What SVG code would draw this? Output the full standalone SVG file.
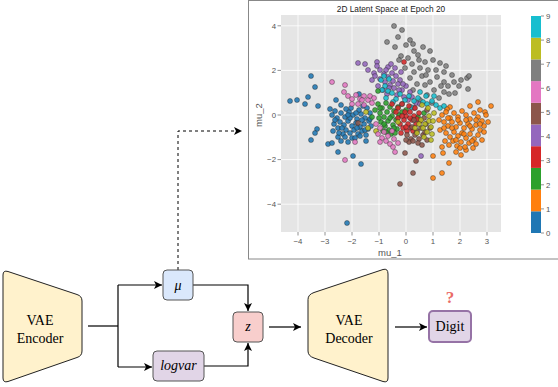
<svg xmlns="http://www.w3.org/2000/svg" width="558" height="387" viewBox="0 0 558 387">
<style>
.t{font-family:"Liberation Sans","DejaVu Sans",sans-serif;fill:#555;font-size:7.8px}
.s{font-family:"Liberation Serif","DejaVu Serif",serif;fill:#000;font-size:14px}
.i{font-family:"Liberation Serif","DejaVu Serif",serif;font-style:italic}
.g{stroke:#fff;stroke-width:0.8}
.k{stroke:#777;stroke-width:0.8}
.ln{fill:none;stroke:#000;stroke-width:1.2}
circle{r:2.5px;stroke:#222;stroke-width:0.5;fill-opacity:0.88;stroke-opacity:0.8}
.c0{fill:#1f77b4}.c1{fill:#ff7f0e}.c2{fill:#2ca02c}.c3{fill:#d62728}.c4{fill:#9467bd}
.c5{fill:#8c564b}.c6{fill:#e377c2}.c7{fill:#7f7f7f}.c8{fill:#bcbd22}.c9{fill:#17becf}
</style>
<defs>
<marker id="ar" markerWidth="9" markerHeight="9" refX="8" refY="4" orient="auto" markerUnits="userSpaceOnUse">
<path d="M0,0 L8,4 L0,8 L2,4 z" fill="#000"/>
</marker>
</defs>
<rect width="558" height="387" fill="#fff"/>
<g id="plot">
<rect x="248.5" y="0.5" width="310" height="258.5" fill="#fff" stroke="#888" stroke-width="1"/>
<rect x="281" y="15" width="220" height="217" fill="#e5e5e5"/>
<g class="g">
<line x1="298" y1="15" x2="298" y2="232"/><line x1="325" y1="15" x2="325" y2="232"/>
<line x1="352" y1="15" x2="352" y2="232"/><line x1="379" y1="15" x2="379" y2="232"/>
<line x1="406" y1="15" x2="406" y2="232"/><line x1="433" y1="15" x2="433" y2="232"/>
<line x1="460" y1="15" x2="460" y2="232"/><line x1="487" y1="15" x2="487" y2="232"/>
<line x1="281" y1="25.8" x2="501" y2="25.8"/><line x1="281" y1="70.4" x2="501" y2="70.4"/>
<line x1="281" y1="115" x2="501" y2="115"/><line x1="281" y1="159.6" x2="501" y2="159.6"/>
<line x1="281" y1="204.2" x2="501" y2="204.2"/>
</g>
<g class="k">
<line x1="298" y1="232" x2="298" y2="235.5"/><line x1="325" y1="232" x2="325" y2="235.5"/>
<line x1="352" y1="232" x2="352" y2="235.5"/><line x1="379" y1="232" x2="379" y2="235.5"/>
<line x1="406" y1="232" x2="406" y2="235.5"/><line x1="433" y1="232" x2="433" y2="235.5"/>
<line x1="460" y1="232" x2="460" y2="235.5"/><line x1="487" y1="232" x2="487" y2="235.5"/>
<line x1="277.5" y1="25.8" x2="281" y2="25.8"/><line x1="277.5" y1="70.4" x2="281" y2="70.4"/>
<line x1="277.5" y1="115" x2="281" y2="115"/><line x1="277.5" y1="159.6" x2="281" y2="159.6"/>
<line x1="277.5" y1="204.2" x2="281" y2="204.2"/>
</g>
<g class="t" text-anchor="middle">
<text x="298" y="244">−4</text><text x="325" y="244">−3</text><text x="352" y="244">−2</text>
<text x="379" y="244">−1</text><text x="406" y="244">0</text><text x="433" y="244">1</text>
<text x="460" y="244">2</text><text x="487" y="244">3</text>
</g>
<g class="t" text-anchor="end">
<text x="276" y="28.5">4</text><text x="276" y="73">2</text><text x="276" y="117.7">0</text>
<text x="276" y="162.3">−2</text><text x="276" y="206.9">−4</text>
</g>
<text class="t" x="390" y="255.5" text-anchor="middle" style="font-size:9.5px">mu_1</text>
<text class="t" transform="translate(261.5,115) rotate(-90)" text-anchor="middle" style="font-size:9.5px">mu_2</text>
<text x="391" y="12" text-anchor="middle" font-family="Liberation Sans, DejaVu Sans, sans-serif" font-size="8.3" fill="#222">2D Latent Space at Epoch 20</text>
<g id="points">
<circle class="c0" cx="290" cy="101"/><circle class="c0" cx="297" cy="100"/><circle class="c0" cx="305" cy="104"/><circle class="c0" cx="311" cy="76"/><circle class="c0" cx="315" cy="87"/><circle class="c0" cx="308" cy="97"/><circle class="c0" cx="318" cy="106"/><circle class="c0" cx="317" cy="129"/><circle class="c0" cx="315" cy="133"/><circle class="c0" cx="311" cy="140"/><circle class="c0" cx="328" cy="144"/><circle class="c0" cx="332" cy="143"/><circle class="c0" cx="338" cy="137"/><circle class="c0" cx="341" cy="141"/><circle class="c0" cx="338" cy="152"/><circle class="c0" cx="353" cy="156"/><circle class="c0" cx="361" cy="164"/><circle class="c0" cx="347" cy="223"/><circle class="c0" cx="359" cy="94"/><circle class="c0" cx="336" cy="100"/><circle class="c0" cx="341" cy="105"/><circle class="c0" cx="330" cy="109"/><circle class="c0" cx="335" cy="111"/><circle class="c0" cx="348" cy="142"/><circle class="c0" cx="352" cy="138"/><circle class="c0" cx="366" cy="141"/>
<circle class="c0" cx="332" cy="115"/><circle class="c0" cx="337" cy="118"/><circle class="c0" cx="341" cy="113"/><circle class="c0" cx="345" cy="117"/><circle class="c0" cx="349" cy="112"/><circle class="c0" cx="353" cy="115"/><circle class="c0" cx="357" cy="119"/><circle class="c0" cx="361" cy="114"/><circle class="c0" cx="365" cy="118"/><circle class="c0" cx="369" cy="121"/><circle class="c0" cx="340" cy="122"/><circle class="c0" cx="344" cy="125"/><circle class="c0" cx="348" cy="121"/><circle class="c0" cx="352" cy="126"/><circle class="c0" cx="356" cy="123"/><circle class="c0" cx="360" cy="127"/><circle class="c0" cx="364" cy="124"/><circle class="c0" cx="368" cy="129"/><circle class="c0" cx="346" cy="130"/><circle class="c0" cx="350" cy="133"/><circle class="c0" cx="354" cy="130"/><circle class="c0" cx="358" cy="134"/><circle class="c0" cx="362" cy="131"/><circle class="c0" cx="366" cy="135"/><circle class="c0" cx="343" cy="134"/><circle class="c0" cx="338" cy="128"/><circle class="c0" cx="334" cy="124"/><circle class="c0" cx="355" cy="138"/><circle class="c0" cx="359" cy="110"/><circle class="c0" cx="363" cy="106"/><circle class="c0" cx="370" cy="113"/><circle class="c0" cx="371" cy="126"/><circle class="c0" cx="367" cy="108"/><circle class="c0" cx="351" cy="108"/><circle class="c0" cx="346" cy="109"/><circle class="c0" cx="339" cy="133"/>
<circle class="c0" cx="335" cy="120"/><circle class="c0" cx="342" cy="128"/><circle class="c0" cx="356" cy="113"/><circle class="c0" cx="362" cy="120"/><circle class="c0" cx="350" cy="118"/><circle class="c0" cx="345" cy="137"/><circle class="c0" cx="365" cy="130"/><circle class="c0" cx="333" cy="131"/><circle class="c0" cx="370" cy="119"/><circle class="c0" cx="357" cy="128"/><circle class="c0" cx="348" cy="115"/><circle class="c0" cx="360" cy="136"/>
<circle class="c1" cx="478" cy="102"/><circle class="c1" cx="491" cy="106"/><circle class="c1" cx="470" cy="106"/><circle class="c1" cx="485" cy="112"/><circle class="c1" cx="450" cy="107"/><circle class="c1" cx="433" cy="156"/><circle class="c1" cx="443" cy="153"/><circle class="c1" cx="449" cy="163"/><circle class="c1" cx="442" cy="173"/><circle class="c1" cx="433" cy="178"/><circle class="c1" cx="466" cy="150"/><circle class="c1" cx="461" cy="155"/><circle class="c1" cx="447" cy="109"/>
<circle class="c1" cx="442" cy="115"/><circle class="c1" cx="446" cy="112"/><circle class="c1" cx="450" cy="118"/><circle class="c1" cx="454" cy="113"/><circle class="c1" cx="458" cy="117"/><circle class="c1" cx="462" cy="111"/><circle class="c1" cx="466" cy="115"/><circle class="c1" cx="470" cy="119"/><circle class="c1" cx="474" cy="113"/><circle class="c1" cx="478" cy="117"/><circle class="c1" cx="482" cy="121"/><circle class="c1" cx="486" cy="115"/><circle class="c1" cx="444" cy="122"/><circle class="c1" cx="448" cy="126"/><circle class="c1" cx="452" cy="122"/><circle class="c1" cx="456" cy="127"/><circle class="c1" cx="460" cy="123"/><circle class="c1" cx="464" cy="128"/><circle class="c1" cx="468" cy="124"/><circle class="c1" cx="472" cy="129"/><circle class="c1" cx="476" cy="125"/><circle class="c1" cx="480" cy="130"/><circle class="c1" cx="484" cy="126"/><circle class="c1" cx="440" cy="130"/><circle class="c1" cx="446" cy="133"/><circle class="c1" cx="450" cy="137"/><circle class="c1" cx="454" cy="132"/><circle class="c1" cx="458" cy="136"/><circle class="c1" cx="462" cy="133"/><circle class="c1" cx="466" cy="138"/><circle class="c1" cx="470" cy="134"/><circle class="c1" cx="474" cy="139"/><circle class="c1" cx="478" cy="135"/><circle class="c1" cx="482" cy="140"/><circle class="c1" cx="445" cy="141"/><circle class="c1" cx="449" cy="145"/><circle class="c1" cx="453" cy="141"/><circle class="c1" cx="457" cy="146"/><circle class="c1" cx="461" cy="142"/><circle class="c1" cx="465" cy="147"/><circle class="c1" cx="469" cy="143"/><circle class="c1" cx="473" cy="148"/><circle class="c1" cx="442" cy="147"/><circle class="c1" cx="456" cy="152"/><circle class="c1" cx="476" cy="144"/><circle class="c1" cx="488" cy="122"/><circle class="c1" cx="439" cy="120"/><circle class="c1" cx="480" cy="110"/>
<circle class="c1" cx="452" cy="128"/><circle class="c1" cx="458" cy="120"/><circle class="c1" cx="464" cy="134"/><circle class="c1" cx="470" cy="126"/><circle class="c1" cx="476" cy="120"/><circle class="c1" cx="444" cy="128"/><circle class="c1" cx="480" cy="124"/><circle class="c1" cx="466" cy="120"/><circle class="c1" cx="456" cy="140"/><circle class="c1" cx="448" cy="118"/><circle class="c1" cx="472" cy="141"/><circle class="c1" cx="460" cy="148"/><circle class="c1" cx="484" cy="132"/>
<circle class="c7" cx="394" cy="26"/><circle class="c7" cx="402" cy="30"/><circle class="c7" cx="398" cy="37"/><circle class="c7" cx="410" cy="40"/><circle class="c7" cx="406" cy="45"/><circle class="c7" cx="413" cy="44"/><circle class="c7" cx="423" cy="47"/><circle class="c7" cx="430" cy="51"/><circle class="c7" cx="414" cy="51"/><circle class="c7" cx="387" cy="42"/><circle class="c7" cx="401" cy="56"/><circle class="c7" cx="408" cy="58"/><circle class="c7" cx="418" cy="55"/><circle class="c7" cx="425" cy="62"/><circle class="c7" cx="433" cy="60"/><circle class="c7" cx="440" cy="63"/><circle class="c7" cx="446" cy="66"/><circle class="c7" cx="452" cy="75"/><circle class="c7" cx="467" cy="78"/><circle class="c7" cx="469" cy="76"/><circle class="c7" cx="459" cy="86"/><circle class="c7" cx="468" cy="89"/><circle class="c7" cx="454" cy="82"/><circle class="c7" cx="444" cy="82"/><circle class="c7" cx="444" cy="92"/><circle class="c7" cx="449" cy="94"/><circle class="c7" cx="455" cy="93"/><circle class="c7" cx="437" cy="77"/><circle class="c7" cx="430" cy="82"/><circle class="c7" cx="434" cy="90"/><circle class="c7" cx="427" cy="95"/><circle class="c7" cx="420" cy="68"/><circle class="c7" cx="414" cy="72"/><circle class="c7" cx="422" cy="76"/><circle class="c7" cx="428" cy="70"/><circle class="c7" cx="412" cy="64"/><circle class="c7" cx="405" cy="68"/><circle class="c7" cx="399" cy="60"/><circle class="c7" cx="436" cy="70"/><circle class="c7" cx="444" cy="72"/><circle class="c7" cx="448" cy="86"/><circle class="c7" cx="439" cy="98"/><circle class="c7" cx="425" cy="85"/><circle class="c7" cx="417" cy="84"/><circle class="c7" cx="410" cy="78"/><circle class="c7" cx="432" cy="103"/><circle class="c7" cx="420" cy="100"/>
<circle class="c7" cx="395" cy="47"/><circle class="c7" cx="419" cy="60"/><circle class="c7" cx="426" cy="75"/><circle class="c7" cx="441" cy="86"/><circle class="c7" cx="461" cy="80"/><circle class="c7" cx="413" cy="90"/>
<circle class="c4" cx="358" cy="63"/><circle class="c4" cx="365" cy="64"/><circle class="c4" cx="377" cy="62"/><circle class="c4" cx="377" cy="66"/><circle class="c4" cx="368" cy="70"/><circle class="c4" cx="388" cy="67"/><circle class="c4" cx="374" cy="73"/><circle class="c4" cx="380" cy="70"/><circle class="c4" cx="384" cy="74"/><circle class="c4" cx="388" cy="77"/><circle class="c4" cx="392" cy="73"/><circle class="c4" cx="396" cy="76"/><circle class="c4" cx="400" cy="80"/><circle class="c4" cx="380" cy="79"/><circle class="c4" cx="385" cy="82"/><circle class="c4" cx="390" cy="85"/><circle class="c4" cx="394" cy="88"/><circle class="c4" cx="398" cy="84"/><circle class="c4" cx="402" cy="90"/><circle class="c4" cx="406" cy="86"/><circle class="c4" cx="410" cy="92"/><circle class="c4" cx="378" cy="86"/><circle class="c4" cx="383" cy="90"/><circle class="c4" cx="387" cy="94"/><circle class="c4" cx="397" cy="95"/><circle class="c4" cx="404" cy="97"/><circle class="c4" cx="408" cy="100"/><circle class="c4" cx="412" cy="97"/><circle class="c4" cx="416" cy="103"/><circle class="c4" cx="420" cy="104"/><circle class="c4" cx="372" cy="80"/><circle class="c4" cx="395" cy="68"/><circle class="c4" cx="401" cy="72"/><circle class="c4" cx="391" cy="64"/><circle class="c4" cx="421" cy="156"/><circle class="c4" cx="414" cy="108"/>
<circle class="c4" cx="386" cy="70"/><circle class="c4" cx="393" cy="81"/><circle class="c4" cx="403" cy="84"/><circle class="c4" cx="375" cy="76"/><circle class="c4" cx="389" cy="88"/><circle class="c4" cx="399" cy="90"/>
<circle class="c9" cx="381" cy="80"/><circle class="c9" cx="385" cy="86"/><circle class="c9" cx="389" cy="79"/><circle class="c9" cx="382" cy="90"/><circle class="c9" cx="388" cy="91"/><circle class="c9" cx="392" cy="93"/><circle class="c9" cx="396" cy="99"/><circle class="c9" cx="400" cy="94"/><circle class="c9" cx="405" cy="100"/><circle class="c9" cx="409" cy="96"/><circle class="c9" cx="414" cy="101"/><circle class="c9" cx="418" cy="98"/><circle class="c9" cx="423" cy="102"/><circle class="c9" cx="427" cy="104"/><circle class="c9" cx="432" cy="101"/><circle class="c9" cx="436" cy="105"/><circle class="c9" cx="440" cy="108"/><circle class="c9" cx="444" cy="106"/><circle class="c9" cx="402" cy="104"/><circle class="c9" cx="411" cy="107"/><circle class="c9" cx="386" cy="98"/><circle class="c9" cx="393" cy="102"/><circle class="c9" cx="420" cy="92"/><circle class="c9" cx="426" cy="96"/><circle class="c9" cx="434" cy="96"/><circle class="c9" cx="384" cy="76"/>
<circle class="c6" cx="332" cy="82"/><circle class="c6" cx="345" cy="85"/><circle class="c6" cx="344" cy="92"/><circle class="c6" cx="348" cy="96"/><circle class="c6" cx="352" cy="99"/><circle class="c6" cx="356" cy="95"/><circle class="c6" cx="360" cy="99"/><circle class="c6" cx="364" cy="96"/><circle class="c6" cx="368" cy="100"/><circle class="c6" cx="372" cy="103"/><circle class="c6" cx="352" cy="104"/><circle class="c6" cx="358" cy="104"/><circle class="c6" cx="364" cy="105"/><circle class="c6" cx="370" cy="96"/><circle class="c6" cx="345" cy="160"/><circle class="c6" cx="355" cy="142"/><circle class="c6" cx="395" cy="152"/><circle class="c6" cx="362" cy="100"/><circle class="c6" cx="374" cy="98"/>
<circle class="c2" cx="378" cy="91"/><circle class="c2" cx="378" cy="104"/><circle class="c2" cx="382" cy="108"/><circle class="c2" cx="386" cy="103"/><circle class="c2" cx="390" cy="107"/><circle class="c2" cx="394" cy="111"/><circle class="c2" cx="380" cy="113"/><circle class="c2" cx="384" cy="117"/><circle class="c2" cx="388" cy="121"/><circle class="c2" cx="392" cy="116"/><circle class="c2" cx="396" cy="120"/><circle class="c2" cx="381" cy="122"/><circle class="c2" cx="385" cy="126"/><circle class="c2" cx="389" cy="130"/><circle class="c2" cx="393" cy="125"/><circle class="c2" cx="397" cy="129"/><circle class="c2" cx="379" cy="118"/><circle class="c2" cx="383" cy="131"/><circle class="c2" cx="399" cy="115"/><circle class="c2" cx="372" cy="117"/><circle class="c2" cx="375" cy="110"/><circle class="c2" cx="387" cy="112"/><circle class="c2" cx="391" cy="134"/><circle class="c2" cx="398" cy="107"/><circle class="c2" cx="402" cy="112"/><circle class="c2" cx="395" cy="133"/><circle class="c2" cx="418" cy="117"/><circle class="c2" cx="424" cy="113"/><circle class="c2" cx="406" cy="110"/>
<circle class="c2" cx="384" cy="124"/><circle class="c2" cx="390" cy="118"/><circle class="c2" cx="386" cy="132"/><circle class="c2" cx="394" cy="128"/><circle class="c2" cx="380" cy="108"/>
<circle class="c3" cx="404" cy="62"/><circle class="c3" cx="398" cy="108"/><circle class="c3" cx="402" cy="104"/><circle class="c3" cx="406" cy="116"/><circle class="c3" cx="410" cy="112"/><circle class="c3" cx="414" cy="116"/><circle class="c3" cx="404" cy="120"/><circle class="c3" cx="408" cy="124"/><circle class="c3" cx="412" cy="120"/><circle class="c3" cx="416" cy="124"/><circle class="c3" cx="400" cy="124"/><circle class="c3" cx="403" cy="128"/><circle class="c3" cx="407" cy="131"/><circle class="c3" cx="411" cy="128"/><circle class="c3" cx="396" cy="112"/><circle class="c3" cx="419" cy="113"/><circle class="c3" cx="415" cy="108"/><circle class="c3" cx="409" cy="106"/><circle class="c3" cx="401" cy="133"/><circle class="c3" cx="420" cy="121"/><circle class="c3" cx="405" cy="112"/><circle class="c3" cx="413" cy="131"/><circle class="c3" cx="398" cy="118"/><circle class="c3" cx="392" cy="104"/>
<circle class="c3" cx="406" cy="127"/><circle class="c3" cx="410" cy="118"/><circle class="c3" cx="402" cy="116"/><circle class="c3" cx="417" cy="119"/>
<circle class="c5" cx="405" cy="153"/><circle class="c5" cx="416" cy="161"/><circle class="c5" cx="413" cy="173"/><circle class="c5" cx="400" cy="184"/><circle class="c5" cx="358" cy="123"/><circle class="c5" cx="407" cy="135"/><circle class="c5" cx="411" cy="139"/><circle class="c5" cx="415" cy="135"/><circle class="c5" cx="419" cy="139"/><circle class="c5" cx="423" cy="135"/><circle class="c5" cx="409" cy="142"/><circle class="c5" cx="413" cy="141"/><circle class="c5" cx="417" cy="131"/><circle class="c5" cx="421" cy="128"/><circle class="c5" cx="425" cy="132"/><circle class="c5" cx="427" cy="140"/><circle class="c5" cx="418" cy="143"/><circle class="c5" cx="422" cy="145"/><circle class="c5" cx="412" cy="127"/><circle class="c5" cx="426" cy="124"/><circle class="c5" cx="430" cy="128"/><circle class="c5" cx="406" cy="140"/><circle class="c5" cx="424" cy="118"/><circle class="c5" cx="414" cy="120"/><circle class="c5" cx="427" cy="110"/>
<circle class="c8" cx="366" cy="112"/><circle class="c8" cx="421" cy="120"/><circle class="c8" cx="425" cy="124"/><circle class="c8" cx="429" cy="121"/><circle class="c8" cx="423" cy="128"/><circle class="c8" cx="427" cy="132"/><circle class="c8" cx="431" cy="127"/><circle class="c8" cx="419" cy="124"/><circle class="c8" cx="417" cy="133"/><circle class="c8" cx="424" cy="137"/><circle class="c8" cx="429" cy="116"/><circle class="c8" cx="433" cy="121"/><circle class="c8" cx="434" cy="113"/><circle class="c8" cx="428" cy="108"/><circle class="c8" cx="422" cy="105"/><circle class="c8" cx="432" cy="134"/><circle class="c8" cx="415" cy="128"/><circle class="c8" cx="398" cy="122"/><circle class="c8" cx="376" cy="131"/><circle class="c8" cx="368" cy="128"/><circle class="c8" cx="431" cy="140"/>
<circle class="c6" cx="380" cy="128"/><circle class="c6" cx="384" cy="132"/><circle class="c6" cx="388" cy="136"/><circle class="c6" cx="392" cy="131"/><circle class="c6" cx="382" cy="138"/><circle class="c6" cx="386" cy="141"/><circle class="c6" cx="390" cy="144"/><circle class="c6" cx="394" cy="139"/><circle class="c6" cx="378" cy="134"/><circle class="c6" cx="398" cy="143"/><circle class="c6" cx="393" cy="147"/><circle class="c6" cx="376" cy="124"/><circle class="c6" cx="380" cy="142"/>
</g>
<g id="colorbar">
<rect x="531" y="211.3" width="10" height="21.7" fill="#1f77b4"/>
<rect x="531" y="189.6" width="10" height="21.7" fill="#ff7f0e"/>
<rect x="531" y="167.9" width="10" height="21.7" fill="#2ca02c"/>
<rect x="531" y="146.2" width="10" height="21.7" fill="#d62728"/>
<rect x="531" y="124.5" width="10" height="21.7" fill="#9467bd"/>
<rect x="531" y="102.8" width="10" height="21.7" fill="#8c564b"/>
<rect x="531" y="81.1" width="10" height="21.7" fill="#e377c2"/>
<rect x="531" y="59.4" width="10" height="21.7" fill="#7f7f7f"/>
<rect x="531" y="37.7" width="10" height="21.7" fill="#bcbd22"/>
<rect x="531" y="16" width="10" height="21.7" fill="#17becf"/>
<g class="k">
<line x1="541" y1="233" x2="544" y2="233"/><line x1="541" y1="208.9" x2="544" y2="208.9"/>
<line x1="541" y1="184.8" x2="544" y2="184.8"/><line x1="541" y1="160.7" x2="544" y2="160.7"/>
<line x1="541" y1="136.6" x2="544" y2="136.6"/><line x1="541" y1="112.4" x2="544" y2="112.4"/>
<line x1="541" y1="88.3" x2="544" y2="88.3"/><line x1="541" y1="64.2" x2="544" y2="64.2"/>
<line x1="541" y1="40.1" x2="544" y2="40.1"/><line x1="541" y1="16" x2="544" y2="16"/>
</g>
<g class="t">
<text x="546" y="235.7">0</text><text x="546" y="211.6">1</text><text x="546" y="187.5">2</text>
<text x="546" y="163.4">3</text><text x="546" y="139.3">4</text><text x="546" y="115.1">5</text>
<text x="546" y="91">6</text><text x="546" y="66.9">7</text><text x="546" y="42.8">8</text>
<text x="546" y="18.7">9</text>
</g>
</g>
</g>
<g id="connectors">
<path class="ln" d="M88,326 H118"/>
<path class="ln" d="M118,285 V367"/>
<path class="ln" d="M118,285 H162" marker-end="url(#ar)"/>
<path class="ln" d="M118,367 H152" marker-end="url(#ar)"/>
<path class="ln" d="M193,285 H248 V311" marker-end="url(#ar)"/>
<path class="ln" d="M204,366 H248 V343" marker-end="url(#ar)"/>
<path class="ln" d="M269,327 H301" marker-end="url(#ar)"/>
<path class="ln" d="M395,327 H427" marker-end="url(#ar)"/>
<path class="ln" d="M178,270 V131 H242" stroke-dasharray="3,3" marker-end="url(#ar)" style="stroke-width:1"/>
</g>
<g id="encoder">
<path d="M8,271.5 L77,294.5 Q82,296 82,301 L82,351 Q82,356 77,357.5 L8,381.5 Q3,383 3,378 L3,275 Q3,270 8,271.5 Z" fill="#fff2cc" stroke="#222" stroke-width="1"/>
<text class="s" x="40" y="325" text-anchor="middle">VAE</text>
<text class="s" x="40" y="343" text-anchor="middle">Encoder</text>
</g>
<g id="mu">
<rect x="163" y="270" width="30" height="30" rx="4" fill="#dae8fc" stroke="#555" stroke-width="1"/>
<text class="s i" x="178" y="290" text-anchor="middle" font-style="italic">μ</text>
</g>
<g id="logvar">
<rect x="153" y="351" width="51" height="30" rx="4" fill="#e1d5e7" stroke="#555" stroke-width="1"/>
<text class="s i" x="178.5" y="370" text-anchor="middle" font-style="italic">logvar</text>
</g>
<g id="z">
<rect x="233" y="312" width="30" height="30" rx="4" fill="#f8cecc" stroke="#555" stroke-width="1"/>
<text class="s i" x="248" y="331" text-anchor="middle" font-style="italic">z</text>
</g>
<g id="decoder">
<path d="M383,269.5 L314,292.5 Q308,294.5 308,299.5 L308,351 Q308,356 314,358 L383,381.5 Q388,383 388,378 L388,274 Q388,268 383,269.5 Z" fill="#fff2cc" stroke="#222" stroke-width="1"/>
<text class="s" x="349" y="325" text-anchor="middle">VAE</text>
<text class="s" x="349" y="343" text-anchor="middle">Decoder</text>
</g>
<g id="digit">
<rect x="429" y="311" width="42" height="31" rx="4" fill="#e1d5e7" stroke="#9673a6" stroke-width="2"/>
<text class="s" x="450" y="331" text-anchor="middle">Digit</text>
<text x="450" y="303" text-anchor="middle" font-family="Liberation Serif, DejaVu Serif, serif" font-weight="bold" font-size="17" fill="#ea6b66">?</text>
</g>
</svg>
